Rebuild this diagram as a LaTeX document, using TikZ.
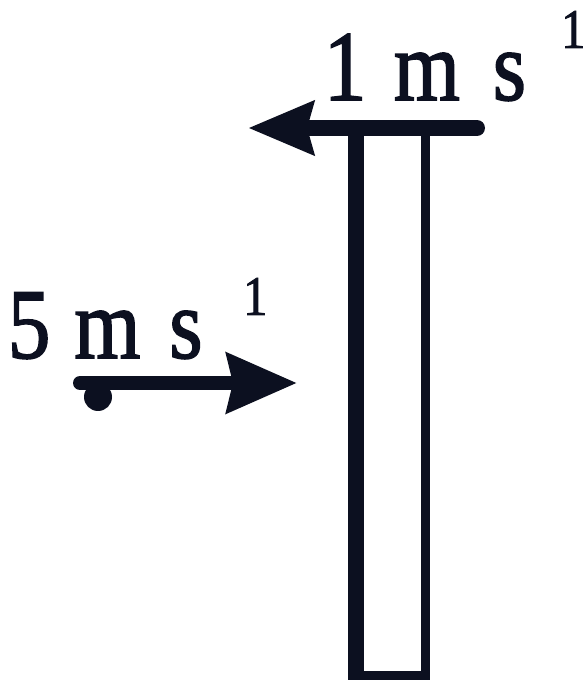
\documentclass[tikz,border=0pt]{standalone}
\usepackage{fontspec}
\setmainfont{Liberation Serif}
\newfontfamily\scanfont{Liberation Serif}[FakeStretch=0.85, FakeBold=1.6]
\usepackage{tikz}
\usetikzlibrary{arrows.meta, positioning, calc}
\definecolor{inkblack}{RGB}{12,16,32}
\tikzset{
  rodbox/.style={rectangle, draw=inkblack, line width=0.18cm, outer sep=0pt,
    minimum width=1.38cm, minimum height=10.94cm, inner sep=0pt},
  vellabel/.style={inner sep=0pt, anchor=base west, text=inkblack,
    font=\scanfont\fontsize{56.9}{60}\selectfont},
  suplabel/.style={inner sep=0pt, anchor=base west, text=inkblack,
    font=\scanfont\fontsize{31.9}{34}\selectfont},
  ballnode/.style={circle, fill=inkblack, minimum size=0.56cm, inner sep=0pt},
  velarrow/.style={line width=0.32cm, color=inkblack, line cap=round}
}

\begin{document}
\begin{tikzpicture}
  \useasboundingbox (0,0) rectangle (11.74,13.7);
  % rod
  \node[rodbox] (rod) at (7.81,5.67) {};
  \draw[inkblack, line width=0.32cm] ($(rod.north west)+(0,0.09)$) -- ($(rod.south west)-(0,0.09)$);
  % velocity of the rod
  \coordinate (rodtail) at (9.54,11.14);
  \coordinate (rodtip) at (4.96,11.14);
  \draw[velarrow, -{Stealth[length=1.3cm, width=1.04cm, inset=0.12cm]}] (rodtail) -- (rodtip);
  \node[vellabel] (rodvel) at (6.47,11.7) {1\hspace{0.55cm}m\hspace{0.66cm}s};
  \node[suplabel] (rodsup) at (11.22,12.74) {1};
  % ball and its velocity
  \node[ballnode] (ball) at (1.96,5.76) {};
  \coordinate (balltail) at (1.6,6.04);
  \coordinate (balltip) at (5.94,6.04);
  \draw[velarrow, line width=0.28cm, -{Stealth[length=1.4cm, width=1.18cm, inset=0.12cm]}] (balltail) -- (balltip);
  \node[vellabel] (ballvel) at (0.15,6.54) {5\hspace{0.48cm}m\hspace{0.58cm}s};
  \node[suplabel] (ballsup) at (4.86,7.4) {1};
\end{tikzpicture}
\end{document}
